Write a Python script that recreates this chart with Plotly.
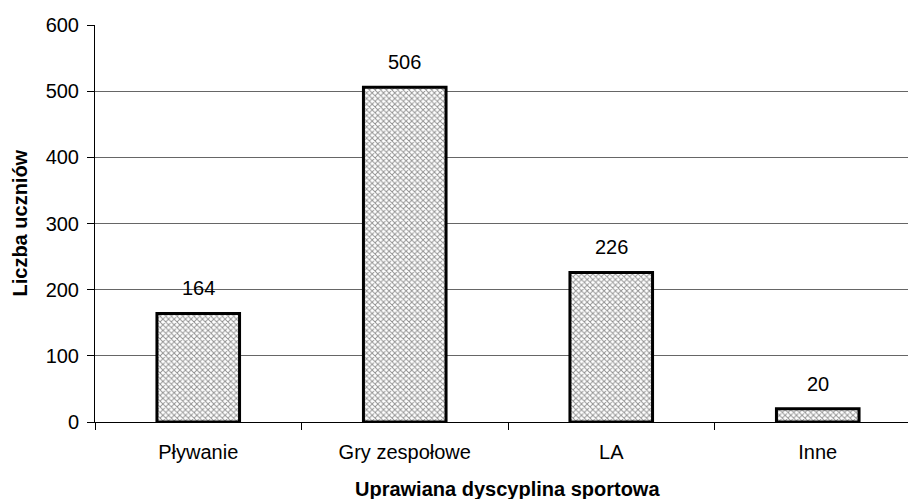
import plotly.graph_objects as go

categories = ["Pływanie", "Gry zespołowe", "LA", "Inne"]
values = [164, 506, 226, 20]
y_ticks = [0, 100, 200, 300, 400, 500, 600]

FONT = "Arial, Liberation Sans, sans-serif"

fig = go.Figure()
fig.add_trace(go.Bar(
    x=categories, y=values, width=0.4,
    marker=dict(
        color="white",
        line=dict(color="black", width=3),
        pattern=dict(shape="x", size=4, solidity=0.42, fgcolor="#222222", bgcolor="white"),
    ),
    hoverinfo="skip",
))

for c, v in zip(categories, values):
    fig.add_annotation(x=c, y=v, text=str(v), showarrow=False, yanchor="middle",
                       yshift=25, font=dict(family=FONT, size=20, color="black"))

L, R, T, B = 95, 0, 25, 77
W, H = 908, 499
pw = W - L - R
fig.add_annotation(xref="paper", yref="paper", x=(507 - L) / pw, y=0, yanchor="middle",
                   yshift=-67, text="<b>Uprawiana dyscyplina sportowa</b>", showarrow=False,
                   font=dict(family=FONT, size=20, color="black"))
fig.add_annotation(xref="paper", yref="paper", x=(19 - L) / pw, y=0.5, xanchor="center",
                   yanchor="middle", textangle=-90, text="<b>Liczba uczniów</b>", showarrow=False,
                   font=dict(family=FONT, size=20, color="black"))

cat_px = 206.5
fig.update_layout(
    width=W, height=H,
    margin=dict(l=L, r=R, t=T, b=B),
    paper_bgcolor="white", plot_bgcolor="white",
    showlegend=False,
    font=dict(family=FONT, size=20, color="black"),
    xaxis=dict(
        type="category", range=[-0.5, -0.5 + pw / cat_px],
        showline=True, linecolor="black", linewidth=1,
        ticks="outside", ticklen=7, tickcolor="black", tickson="boundaries",
        ticklabelstandoff=12,
        showgrid=False, tickfont=dict(family=FONT, size=20, color="black"),
        fixedrange=True,
    ),
    yaxis=dict(
        range=[0, 600], tickvals=y_ticks,
        showline=True, linecolor="black", linewidth=1,
        ticks="outside", ticklen=7, tickcolor="black",
        ticklabelstandoff=4,
        showgrid=True, gridcolor="#666666", gridwidth=1,
        zeroline=False,
        tickfont=dict(family=FONT, size=20, color="black"),
        fixedrange=True,
    ),
)

fig.write_html("out.html", config={"displayModeBar": False},
               post_script="document.body.style.margin='0px';")
